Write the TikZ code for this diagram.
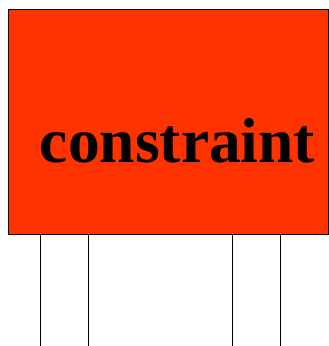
\documentclass[tikz,border=0pt]{standalone}
\usepackage{fontspec}
\setmainfont{Liberation Serif}
\usetikzlibrary{positioning}
\definecolor{constraintred}{RGB}{255, 51, 0}

\begin{document}
\begin{tikzpicture}[x=1pt, y=-1pt]
  \useasboundingbox (0,0) rectangle (329,346);
  % Constraint box
  \node[draw, fill=constraintred, line width=1pt, minimum width=320pt, minimum height=225pt,
        anchor=north west, inner sep=0pt] (box) at (8,8.5) {};
  % Label
  \node[anchor=base, font=\fontsize{63.5}{70}\selectfont\bfseries, inner sep=0pt] (label) at (177.5,162) {constraint};
  % Legs
  \foreach \x [count=\i] in {40,88,232,280} {
    \coordinate (leg\i) at (\x,346);
    \draw[line width=1pt] (box.south -| leg\i) -- (leg\i);
  }
\end{tikzpicture}
\end{document}
